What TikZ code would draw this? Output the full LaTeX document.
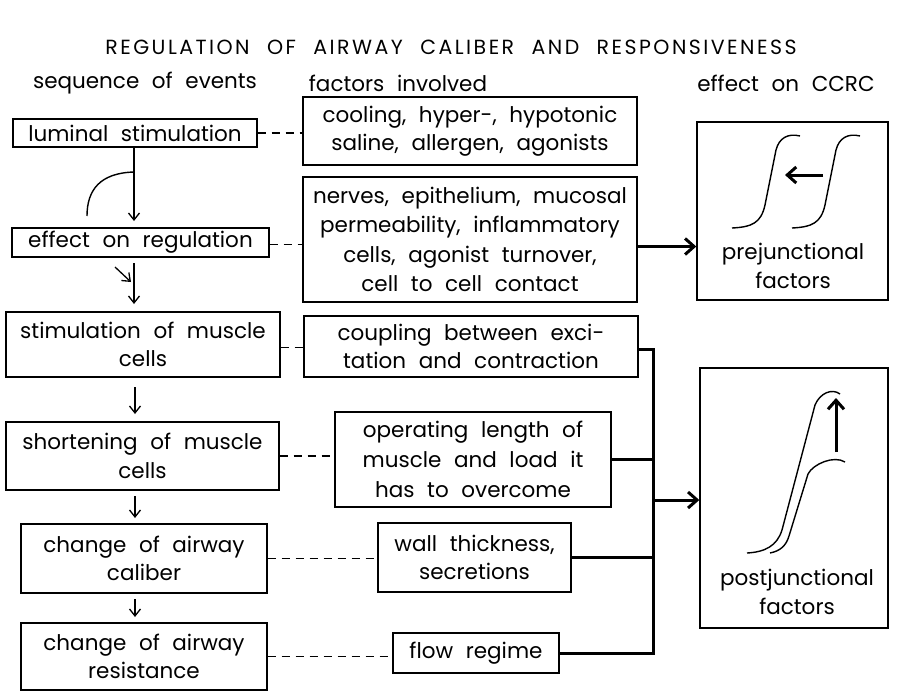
\documentclass[tikz,border=0pt]{standalone}
\usepackage{fontspec}
\setmainfont{Poppins}[WordSpace=2.2]
\usetikzlibrary{arrows.meta,calc}

\begin{document}
\begin{tikzpicture}[x=1pt,y=-1pt,
  every node/.style={font=\fontsize{21.5}{28.5}\selectfont},
  box/.style={draw,line width=1.4pt,inner sep=0pt,align=center,anchor=center},
  link/.style={dash pattern=on 8pt off 6pt,line width=1.4pt},
  seq/.style={line width=1.3pt,-{Straight Barb[length=7pt,width=11pt]}},
  bus/.style={line width=3pt},
  busarrow/.style={line width=3pt,-{Straight Barb[length=9pt,width=16pt,line width=3pt]}},
  curve/.style={line width=1.4pt},
]
\useasboundingbox (0,0) rectangle (900,694);

% title and column heads
\node[font=\fontsize{20.5}{24}\selectfont\addfontfeature{LetterSpace=12}] (title) at (451,47) {REGULATION OF AIRWAY CALIBER AND RESPONSIVENESS};
\node (h1) at (145,83) {sequence of events};
\node (h2) at (398,83) {factors involved};
\node (h3) at (786,83) {effect on CCRC};

% sequence of events
\node[box,minimum width=244pt,minimum height=28pt] (lum) at (135,133) {luminal stimulation};
\node[box,minimum width=257pt,minimum height=29pt] (eff) at (140.5,242.5) {effect on regulation};
\node[box,minimum width=274pt,minimum height=65pt] (stim) at (143,344.5) {stimulation of muscle\\cells};
\node[box,minimum width=273pt,minimum height=68pt] (short) at (142.5,456) {shortening of muscle\\cells};
\node[box,minimum width=246pt,minimum height=69pt] (cal) at (144,558.5) {change of airway\\caliber};
\node[box,minimum width=246pt,minimum height=67pt] (res) at (144,656.5) {change of airway\\resistance};

% factors involved
\node[box,minimum width=334pt,minimum height=68pt] (cool) at (470,131) {cooling, hyper-, hypotonic\\saline, allergen, agonists};
\node[box,minimum width=334pt,minimum height=125pt,font=\fontsize{21.5}{29.5}\selectfont] (nerv) at (470,239.5) {nerves, epithelium, mucosal\\permeability, inflammatory\\cells, agonist turnover,\\cell to cell contact};
\node[box,minimum width=334pt,minimum height=61pt] (coup) at (471,346.5) {coupling between exci-\\tation and contraction};
\node[box,minimum width=276pt,minimum height=95pt,font=\fontsize{21.5}{30}\selectfont] (oper) at (473,459.5) {operating length of\\muscle and load it\\has to overcome};
\node[box,minimum width=193pt,minimum height=69pt] (wall) at (474.5,557.5) {wall thickness,\\secretions};
\node[box,minimum width=166pt,minimum height=40pt] (flow) at (476,653) {flow regime};

% effect on CCRC
\node[box,minimum width=191pt,minimum height=178pt] (pre) at (792.5,211) {};
\node[box,minimum width=188pt,minimum height=260pt] (post) at (794,498) {};
\node[align=center] (pretext) at (793,266) {prejunctional\\factors};
\node[align=center] (posttext) at (797,592) {postjunctional\\factors};

% arrows down the sequence
\draw[seq] (lum.south -| 134,0) -- ([xshift=-6.5pt]eff.north |- 0,221);
\coordinate (fb) at (134,172);
\coordinate (fbend) at (87,216);
\draw[curve] (fb) .. controls (100,173) and (87,190) .. (fbend);
\coordinate (eb) at (134,263);
\draw[seq] (eb) -- (eb |- 0,304);
\coordinate (sa) at (115,267);
\coordinate (sb) at (131,282);
\draw[seq] (sa) -- (sb);
\coordinate (s1) at (135,387);
\draw[seq] (s1) -- (s1 |- 0,414);
\coordinate (s2) at (135,496);
\draw[seq] (s2) -- (s2 |- 0,518);
\coordinate (s3) at (135,599);
\draw[seq] (s3) -- (s3 |- 0,617);

% dashed links to the factors
\draw[link] (lum.east) -- (lum.east -| cool.west);
\draw[link] ($(eff.east)+(0,2)$) -- ($(eff.east -| nerv.west)+(0,2)$);
\draw[link] ($(stim.east)+(0,3)$) -- ($(stim.east -| coup.west)+(0,3)$);
\draw[link] (short.east) -- (short.east -| oper.west);
\draw[link] (cal.east) -- (cal.east -| wall.west);
\draw[link] (res.east) -- (res.east -| flow.west);

% solid links to the effect boxes
\draw[busarrow] ($(nerv.east)+(0,7)$) -- ($(nerv.east -| pre.west)+(0,7)$);
\coordinate (bx) at (653,0);
\draw[bus] ($(coup.east)+(0,3)$) -- ($(coup.east -| bx)+(0,3)$) -- (flow.east -| bx) -- (flow.east);
\draw[bus] (oper.east) -- (oper.east -| bx);
\draw[bus] (wall.east) -- (wall.east -| bx);
\coordinate (bj) at (653,500);
\draw[busarrow] (bj) -- (bj -| post.west);

% prejunctional: curve shifted to the left
\draw[curve] (732,228) .. controls (752,227) and (761,223) .. (765,205) -- (776,150) .. controls (779,138) and (788,133) .. (800,136);
\draw[curve] (792,228) .. controls (812,227) and (821,223) .. (825,205) -- (836,150) .. controls (839,138) and (848,133) .. (860,136);
\coordinate (pa) at (823,175);
\coordinate (pb) at (785,175);
\draw[busarrow] (pa) -- (pb);

% postjunctional: maximum raised
\draw[curve] (747,553) .. controls (765,552) and (777,546) .. (782,530) -- (815,405) .. controls (820,393) and (832,388) .. (840,394);
\draw[curve] (770,553) .. controls (780,551) and (786,546) .. (789,536) -- (808,474) .. controls (813,464) and (834,455) .. (845,462);
\coordinate (qa) at (836,452);
\coordinate (qb) at (836,398);
\draw[busarrow] (qa) -- (qb);
\end{tikzpicture}
\end{document}
